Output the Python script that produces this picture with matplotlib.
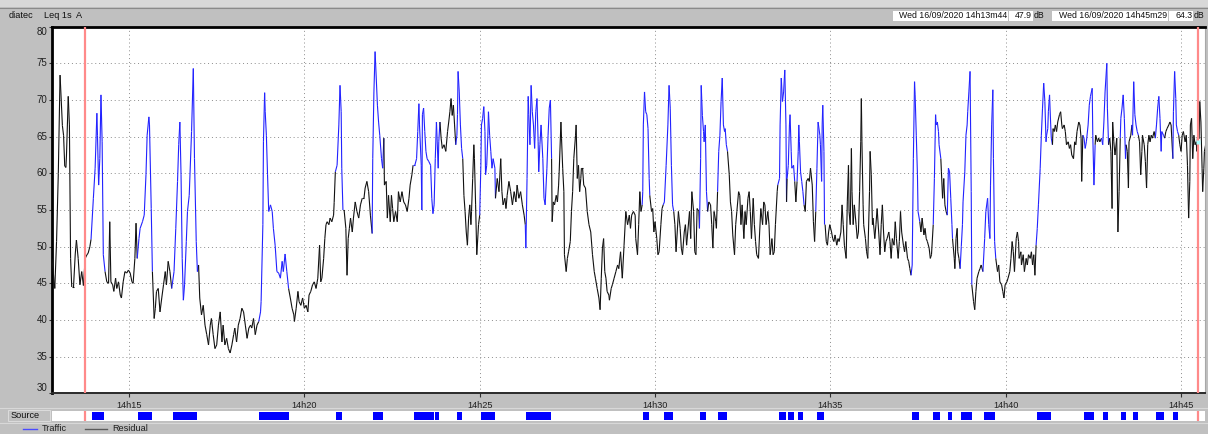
import numpy as np
import matplotlib
matplotlib.use("Agg")
import matplotlib.pyplot as plt
from matplotlib.collections import LineCollection
from matplotlib.patches import Rectangle
from matplotlib.lines import Line2D

plt.rcParams['font.family'] = ['Liberation Sans', 'DejaVu Sans']

# ---------------- data (time in seconds after 14h00, level in dB(A)) ----------------
part1 = [(768, 48.4), (771, 46.0), (773, 44.3), (776, 50.7), (779, 60.0), (782, 73.4), (784, 70.0), (786, 66.5),
         (788, 65.2), (790, 61.0), (792, 60.8), (793, 62.5), (796, 70.5), (798, 66.6), (800, 48.4), (802, 44.5),
         (805, 44.5), (808, 49.0), (810, 50.9), (813, 48.4), (816, 44.8), (819, 46.6), (822, 44.7), (825, 48.4),
         (828, 48.9), (830, 49.1), (833, 50.0), (835, 51.0), (839, 56.6), (842, 60.7), (845, 68.2), (846, 65.2),
         (848, 58.4), (850, 62.0), (852, 70.7), (854, 64.3), (856, 48.9), (859, 46.6), (862, 45.2), (865, 45.0),
         (867, 53.4), (869, 45.2), (872, 44.8), (874, 43.9), (877, 45.7), (879, 44.3), (882, 45.2), (885, 43.4),
         (887, 43.0), (890, 45.2), (893, 46.6), (896, 46.4), (899, 46.8), (902, 46.4), (905, 45.2), (907, 45.0),
         (910, 48.4), (912, 53.2), (914, 48.4), (917, 51.1), (919, 52.5), (923, 53.4), (926, 54.3), (929, 59.8),
         (931, 65.2), (934, 67.7), (935, 66.6), (938, 55.2), (940, 46.6), (943, 40.2), (945, 41.6), (947, 43.9),
         (950, 44.3), (953, 41.1), (956, 43.0), (959, 44.8), (962, 46.6), (964, 44.8), (967, 48.0), (970, 46.6),
         (973, 44.3), (977, 46.6), (980, 52.5), (983, 58.9), (985, 63.9), (987, 67.0), (989, 59.8), (991, 48.4),
         (993, 42.7), (995, 44.8), (998, 50.7), (1000, 54.8), (1003, 57.0), (1007, 65.7), (1010, 74.3), (1012, 62.0),
         (1015, 50.7), (1017, 46.6), (1019, 47.5), (1021, 43.0), (1024, 40.7), (1027, 42.0), (1030, 39.3), (1033, 38.0),
         (1036, 36.6), (1039, 39.3), (1041, 40.2), (1044, 38.0), (1047, 36.1), (1050, 36.6), (1053, 39.3), (1056, 41.1),
         (1059, 37.0), (1061, 39.3), (1064, 36.6), (1067, 37.5), (1070, 36.1), (1073, 35.5), (1076, 36.6), (1079, 38.0),
         (1081, 38.9), (1084, 37.0), (1087, 39.3), (1090, 40.2)]

part2 = [(1093, 41.6), (1096, 41.1), (1099, 39.3), (1102, 37.5), (1105, 38.9), (1108, 39.3), (1110, 38.9), (1113, 40.2),
         (1116, 38.0), (1119, 39.3), (1122, 39.8), (1125, 41.1), (1126, 42.5), (1129, 53.0), (1130, 64.3), (1132, 71.0),
         (1133, 68.4), (1135, 65.2), (1137, 59.8), (1139, 54.8), (1142, 55.7), (1145, 54.8), (1147, 52.5), (1150, 50.2),
         (1153, 46.6), (1156, 46.4), (1159, 45.7), (1162, 48.0), (1164, 46.6), (1167, 49.0), (1170, 46.6), (1173, 44.3),
         (1176, 43.0), (1179, 41.6), (1182, 40.7), (1183, 39.8), (1186, 41.6), (1189, 43.9), (1191, 42.5), (1194, 42.0),
         (1197, 43.0), (1200, 41.6), (1203, 42.0), (1206, 41.1), (1208, 43.4), (1211, 43.9), (1214, 44.8), (1217, 45.2),
         (1220, 44.3), (1223, 45.7), (1226, 50.2), (1228, 45.2), (1230, 45.7), (1233, 48.4), (1235, 51.1), (1237, 53.0),
         (1239, 53.4), (1242, 53.0), (1244, 53.9), (1247, 53.4), (1250, 54.3), (1251, 56.0), (1253, 60.2), (1256, 61.1),
         (1259, 66.6), (1261, 72.0), (1263, 68.4), (1264, 60.7), (1266, 55.0), (1268, 55.0), (1271, 52.5), (1273, 46.1),
         (1275, 51.1), (1277, 52.5), (1279, 53.9), (1282, 52.0), (1284, 53.9), (1287, 56.1), (1290, 54.8), (1293, 53.9),
         (1296, 55.7), (1299, 56.6), (1302, 56.6), (1304, 58.0), (1307, 58.9), (1310, 57.5), (1313, 54.3), (1316, 51.8),
         (1317, 62.0), (1319, 71.1), (1321, 76.6), (1323, 73.0), (1325, 69.3), (1327, 67.0), (1329, 65.2), (1332, 62.0),
         (1334, 60.7), (1336, 64.8), (1337, 58.4), (1340, 58.9), (1342, 53.9), (1344, 57.0), (1347, 53.4), (1349, 57.0),
         (1351, 55.2), (1353, 53.4), (1356, 54.8), (1359, 53.4), (1361, 57.5), (1364, 56.1), (1367, 57.5), (1370, 56.1),
         (1373, 55.7), (1376, 54.8), (1379, 56.6), (1381, 58.4), (1384, 59.8), (1386, 61.1), (1389, 61.1), (1392, 62.0),
         (1394, 65.7), (1396, 69.5), (1397, 66.6), (1400, 61.1), (1401, 55.0), (1402, 68.0), (1404, 68.9), (1406, 65.7),
         (1408, 63.0), (1410, 62.0), (1413, 61.6), (1416, 61.1), (1418, 56.6), (1420, 54.5)]

part3 = [(1422, 55.7), (1424, 62.0), (1426, 67.0), (1429, 60.7), (1430, 64.3), (1432, 67.0), (1434, 64.8), (1436, 63.4),
         (1439, 63.9), (1442, 63.0), (1445, 65.7), (1447, 67.0), (1449, 68.4), (1451, 70.2), (1453, 67.9), (1455, 69.3),
         (1457, 66.6), (1459, 63.9), (1461, 65.2), (1462, 68.0), (1463, 73.9), (1465, 71.1), (1467, 66.6), (1469, 63.4),
         (1471, 62.0), (1473, 57.0), (1475, 54.8), (1477, 52.0), (1479, 50.2), (1481, 53.9), (1483, 55.7), (1485, 53.0),
         (1486, 54.8), (1488, 59.3), (1490, 63.9), (1491, 62.0), (1493, 55.7), (1495, 48.9), (1497, 51.6), (1498, 53.0),
         (1500, 54.3), (1502, 61.1), (1503, 66.6), (1505, 67.5), (1507, 69.1), (1509, 65.7), (1510, 59.8), (1512, 61.1),
         (1514, 65.2), (1515, 68.4), (1517, 65.2), (1519, 63.0), (1521, 60.7), (1523, 62.0), (1526, 60.7), (1527, 56.6),
         (1530, 59.3), (1533, 57.5), (1536, 62.0), (1538, 57.5), (1540, 55.7), (1543, 56.6), (1545, 55.2), (1547, 57.0),
         (1550, 58.9), (1553, 57.5), (1556, 55.7), (1559, 57.5), (1562, 56.1), (1564, 58.4), (1567, 56.6), (1570, 57.5),
         (1573, 55.7), (1576, 54.3), (1578, 53.0), (1579, 49.8), (1581, 59.3), (1583, 70.5), (1584, 68.0), (1586, 63.9),
         (1588, 72.0), (1590, 68.4), (1592, 66.6), (1594, 63.4), (1596, 68.4), (1598, 70.2), (1600, 64.3), (1601, 60.2),
         (1603, 63.9), (1605, 66.6), (1608, 62.0), (1610, 56.6), (1612, 55.7), (1615, 60.7), (1617, 65.2), (1619, 68.9),
         (1621, 70.0), (1623, 62.0), (1624, 53.4), (1626, 56.1), (1628, 55.7), (1631, 57.0), (1633, 56.1), (1635, 58.4),
         (1636, 60.2), (1639, 67.0), (1640, 64.8), (1642, 60.7), (1644, 57.5), (1645, 48.9), (1648, 46.6), (1650, 48.4),
         (1652, 49.3), (1655, 50.7), (1657, 54.8), (1659, 57.5), (1661, 62.0), (1664, 65.2), (1665, 66.6), (1667, 59.3),
         (1669, 61.1), (1671, 57.5), (1673, 59.3), (1674, 60.7), (1676, 60.7), (1678, 58.4), (1681, 58.0), (1684, 54.8),
         (1687, 53.0), (1690, 52.0), (1693, 48.9), (1696, 46.6), (1698, 45.7), (1701, 44.3), (1704, 43.0), (1706, 41.4),
         (1708, 45.7), (1710, 49.8), (1712, 51.1), (1714, 46.6), (1716, 45.7), (1718, 43.9), (1721, 43.4), (1722, 42.7),
         (1725, 44.3), (1727, 44.8), (1730, 45.7), (1733, 46.6), (1736, 47.5), (1738, 47.0), (1741, 49.3), (1744, 45.7),
         (1747, 50.2)]

part4 = [(1750, 54.8), (1753, 53.0), (1756, 54.3), (1758, 52.5), (1760, 54.3), (1763, 54.8), (1766, 54.3), (1767, 51.1),
         (1770, 48.9), (1772, 53.0), (1774, 57.5), (1776, 54.8), (1778, 55.7), (1779, 57.5), (1780, 66.6), (1782, 71.1),
         (1784, 68.4), (1786, 68.0), (1788, 66.1), (1790, 59.3), (1791, 57.0), (1794, 54.8), (1796, 55.2), (1798, 52.0),
         (1800, 53.4), (1803, 51.1), (1805, 48.9), (1807, 49.3), (1810, 53.0), (1812, 55.2), (1814, 55.7), (1816, 56.1),
         (1819, 61.1), (1822, 66.6), (1824, 72.0), (1826, 68.9), (1828, 61.1), (1830, 55.7), (1832, 54.8), (1834, 53.0),
         (1836, 49.3), (1838, 52.0), (1840, 54.8), (1843, 52.5), (1845, 49.8), (1847, 48.9), (1850, 52.0), (1852, 53.0),
         (1854, 50.2), (1856, 52.0), (1859, 54.8), (1861, 51.1), (1863, 57.5), (1866, 54.8), (1868, 49.3), (1870, 48.9),
         (1872, 55.2), (1875, 54.8), (1876, 52.5), (1878, 62.0), (1879, 72.0), (1881, 67.9), (1883, 65.7), (1884, 64.3),
         (1886, 66.6), (1888, 57.5), (1890, 54.8), (1892, 56.1), (1895, 55.7), (1897, 53.0), (1899, 49.8), (1901, 54.8),
         (1904, 53.4), (1905, 52.5), (1907, 57.5), (1909, 63.0), (1911, 65.2), (1913, 69.8), (1915, 73.0), (1917, 66.6),
         (1919, 65.7), (1920, 66.1), (1922, 63.9), (1924, 63.0), (1927, 59.8), (1929, 56.1), (1931, 54.8), (1933, 51.6),
         (1936, 48.9), (1938, 53.0), (1940, 54.8), (1943, 57.5), (1945, 57.0), (1947, 53.0), (1949, 55.7), (1952, 51.1),
         (1954, 54.8), (1956, 53.0), (1959, 56.6), (1961, 57.5), (1963, 54.8), (1965, 51.1), (1968, 56.6), (1970, 53.0),
         (1972, 50.7), (1974, 48.9), (1977, 48.4), (1979, 52.0), (1981, 55.2), (1984, 53.0), (1986, 56.1), (1988, 55.7),
         (1990, 53.0), (1993, 54.8), (1995, 53.0), (1997, 48.9), (2000, 51.1), (2002, 48.9), (2004, 49.3), (2006, 53.0),
         (2009, 57.5), (2010, 58.4), (2013, 59.3), (2014, 66.6), (2016, 73.0), (2018, 69.8), (2020, 71.1), (2022, 74.1),
         (2024, 66.6), (2025, 56.1), (2026, 59.3), (2028, 61.1), (2030, 66.6), (2031, 68.0), (2033, 63.0), (2034, 60.7),
         (2037, 61.1), (2039, 58.9), (2041, 56.1), (2043, 58.9), (2045, 63.0), (2046, 66.6), (2047, 64.3), (2049, 60.2),
         (2051, 58.9), (2053, 57.5), (2055, 55.7), (2057, 54.8), (2059, 58.9), (2062, 59.3), (2064, 58.9), (2066, 60.7),
         (2069, 58.4), (2071, 53.4), (2073, 50.7), (2075, 54.8), (2077, 60.7), (2079, 67.0)]

part5 = [(2082, 65.2), (2083, 63.9), (2085, 58.9), (2086, 66.6), (2087, 69.3), (2089, 63.0), (2090, 53.0), (2091, 53.0),
         (2093, 50.7), (2095, 50.2), (2097, 52.0), (2099, 53.0), (2102, 52.0), (2104, 51.1), (2106, 50.7), (2108, 51.6),
         (2111, 50.2), (2113, 51.1), (2115, 50.7), (2118, 52.0), (2120, 55.7), (2122, 53.0), (2124, 50.2), (2127, 48.4),
         (2129, 56.1), (2131, 61.1), (2132, 54.8), (2134, 53.0), (2136, 63.4), (2137, 57.5), (2139, 53.0), (2141, 55.7),
         (2144, 53.0), (2146, 51.1), (2148, 52.0), (2150, 57.5), (2152, 64.3), (2153, 70.2), (2154, 64.3), (2156, 55.7),
         (2157, 53.0), (2160, 51.1), (2162, 49.3), (2164, 48.4), (2167, 57.5), (2168, 63.0), (2170, 59.8), (2172, 53.0),
         (2173, 53.9), (2176, 51.1), (2178, 53.0), (2180, 55.2), (2183, 51.6), (2185, 48.9), (2187, 53.0), (2189, 55.7),
         (2191, 52.0), (2193, 49.3), (2195, 50.7), (2197, 51.1), (2200, 52.0), (2202, 50.7), (2204, 48.4), (2206, 51.1),
         (2209, 50.2), (2211, 53.4), (2213, 51.1), (2216, 48.4), (2218, 50.7), (2220, 54.8), (2222, 52.0), (2225, 50.2),
         (2227, 49.3), (2229, 50.7), (2232, 48.4), (2234, 48.0), (2236, 47.0), (2238, 46.1), (2240, 47.5), (2242, 62.0),
         (2244, 72.5), (2245, 70.7), (2247, 65.2), (2249, 59.8), (2250, 54.8), (2253, 53.4), (2255, 52.0), (2257, 53.9),
         (2260, 51.6), (2262, 52.5), (2264, 51.1), (2266, 50.7), (2269, 49.8), (2271, 48.4), (2273, 48.9), (2276, 53.0),
         (2278, 59.3), (2280, 68.0), (2281, 66.6), (2283, 67.0), (2285, 65.7), (2286, 63.9), (2289, 62.0), (2290, 60.2),
         (2292, 56.6), (2294, 59.3), (2296, 55.7), (2298, 54.8), (2300, 54.3), (2302, 60.7), (2304, 60.2), (2306, 56.6),
         (2308, 53.0), (2309, 51.1), (2312, 48.4), (2313, 47.0), (2315, 51.1), (2317, 52.5), (2318, 49.3), (2320, 48.4),
         (2322, 47.0), (2324, 50.0), (2326, 53.0), (2327, 56.1), (2330, 60.2), (2332, 65.2), (2334, 66.6), (2335, 68.4),
         (2337, 71.1), (2339, 73.9), (2341, 57.5), (2342, 44.8), (2345, 42.5), (2347, 41.4), (2349, 43.9), (2351, 45.7),
         (2354, 46.6), (2356, 47.0), (2358, 47.5), (2361, 46.6), (2364, 51.1), (2366, 54.8), (2369, 56.6), (2371, 53.0),
         (2373, 51.1), (2374, 58.4), (2376, 66.6), (2378, 71.4), (2379, 62.0), (2381, 50.7), (2383, 48.4), (2386, 46.6),
         (2388, 47.5), (2390, 45.2), (2393, 44.8), (2395, 43.9), (2397, 43.0), (2399, 44.8), (2402, 45.2), (2404, 45.7)]

part6 = [(2407, 46.6), (2409, 48.4), (2411, 50.7), (2413, 49.3), (2415, 46.6), (2418, 51.1), (2420, 52.0), (2422, 50.7),
         (2423, 48.4), (2426, 49.3), (2427, 47.5), (2430, 48.9), (2432, 46.6), (2435, 48.4), (2437, 47.5), (2439, 48.9),
         (2442, 48.4), (2444, 49.3), (2446, 47.5), (2448, 48.9), (2450, 46.1), (2452, 50.2), (2454, 52.5), (2456, 55.7),
         (2459, 60.7), (2461, 65.2), (2463, 68.9), (2465, 72.3), (2467, 69.8), (2469, 64.3), (2470, 65.2), (2472, 66.1),
         (2473, 68.4), (2475, 70.7), (2477, 66.6), (2478, 64.8), (2480, 63.9), (2481, 66.1), (2483, 65.7), (2485, 66.6),
         (2487, 65.7), (2489, 67.0), (2492, 68.0), (2494, 68.4), (2496, 66.6), (2497, 66.1), (2500, 66.6), (2502, 65.7),
         (2504, 63.9), (2507, 64.3), (2509, 63.4), (2511, 63.9), (2513, 62.5), (2516, 62.0), (2518, 64.3), (2520, 63.9),
         (2522, 65.7), (2525, 67.0), (2527, 66.6), (2529, 64.8), (2530, 58.9), (2532, 65.2), (2534, 64.8), (2536, 63.4),
         (2538, 64.3), (2541, 66.6), (2543, 69.3), (2545, 70.5), (2548, 71.6), (2549, 65.2), (2551, 58.4), (2553, 63.9),
         (2554, 65.2), (2557, 64.3), (2559, 64.8), (2561, 64.3), (2564, 64.8), (2566, 63.9), (2568, 67.0), (2570, 71.1),
         (2573, 75.0), (2574, 68.9), (2576, 63.9), (2578, 64.8), (2580, 63.0), (2582, 55.2), (2583, 67.0), (2585, 64.3),
         (2587, 62.5), (2590, 64.8), (2592, 52.0), (2594, 57.5), (2596, 64.8), (2597, 67.5), (2599, 68.9), (2601, 70.7),
         (2603, 67.5), (2605, 62.0), (2606, 63.9), (2608, 63.0), (2610, 58.0), (2611, 64.3), (2614, 65.2), (2616, 66.6),
         (2617, 65.2), (2619, 72.5), (2621, 68.0), (2623, 66.6), (2625, 65.7), (2627, 65.2), (2629, 64.3), (2631, 59.8),
         (2633, 63.0), (2634, 65.2), (2637, 63.9), (2639, 61.6), (2641, 58.0), (2643, 63.9), (2645, 65.2), (2647, 64.3),
         (2649, 65.2), (2651, 64.8), (2654, 65.7), (2656, 64.8), (2658, 66.6), (2660, 68.9), (2662, 70.5), (2664, 67.5),
         (2666, 63.0), (2667, 65.7), (2670, 65.2), (2672, 64.8), (2674, 65.7), (2676, 66.1), (2679, 66.6), (2681, 67.0),
         (2683, 66.6), (2686, 62.0), (2687, 68.4), (2689, 73.9), (2691, 70.2), (2692, 66.6), (2694, 65.7), (2696, 65.2),
         (2698, 63.9), (2700, 63.0), (2702, 65.2), (2704, 65.7), (2707, 64.3), (2709, 65.2), (2711, 61.1), (2713, 53.9),
         (2715, 58.9), (2716, 66.6), (2718, 67.5), (2720, 62.0), (2722, 65.2), (2724, 63.9), (2726, 64.3), (2727, 63.0),
         (2728, 64.8), (2731, 64.8), (2732, 69.8), (2734, 67.0), (2736, 60.7), (2737, 57.5), (2739, 60.7), (2740, 63.0),
         (2743, 64.3)]

traffic_start = [836, 915, 976, 1123, 1254, 1317, 1388, 1423, 1461, 1502, 1579, 1779, 1816, 1877, 1908, 2012,
                 2028, 2044, 2077, 2240, 2276, 2301, 2324, 2363, 2454, 2534, 2566, 2597, 2617, 2658, 2686]
traffic_end = [857, 939, 1017, 1173, 1264, 1335, 1421, 1430, 1470, 1526, 1622, 1790, 1830, 1888, 1923, 2024,
               2037, 2053, 2089, 2252, 2288, 2308, 2342, 2381, 2478, 2551, 2575, 2605, 2626, 2671, 2694]

cursor_t = [824, 2729]
cursor_db = [47.9, 64.3]
tick_t = [900, 1200, 1500, 1800, 2100, 2400, 2700]
y_ticks = [30, 35, 40, 45, 50, 55, 60, 65, 70, 75, 80]
x_range = (767.7, 2741.0)

# ---------------- figure ----------------
W, H = 1208, 434
BG = '#c0c0c0'
BLUE = '#2222ff'
fig = plt.figure(figsize=(W / 100, H / 100), dpi=100)
fig.patch.set_facecolor(BG)
FS = 6.6
FSH = 6.3
FSY = 7.0


def prect(x0, y0, x1, y1):
    return [x0 / W, 1 - y1 / H, (x1 - x0) / W, (y1 - y0) / H]


def fx(x):
    return x / W


def fy(y):
    return 1 - y / H


# top strip
fig.add_artist(Rectangle((0, fy(7)), 1, 7 / H, transform=fig.transFigure,
                         facecolor='#d8d8d8', edgecolor='none'))
fig.add_artist(Line2D([0, 1], [fy(7.5)] * 2, transform=fig.transFigure, color='#8a8a8a', lw=0.8))

# header texts
fig.text(fx(9), fy(15.5), 'diatec', fontsize=FS, va='center', ha='left', color='#101010')
fig.text(fx(44), fy(15.5), 'Leq 1s', fontsize=FS, va='center', ha='left', color='#101010')
fig.text(fx(76), fy(15.5), 'A', fontsize=FS, va='center', ha='left', color='#101010')


def hms(s):
    h = 14 + s // 3600
    m = (s % 3600) // 60
    sec = s % 60
    return f"{h}h{m:02d}m{sec:02d}"


boxes = [(892.7, 1008.3, 1009.3, 1033.3), (1052.3, 1168.3, 1169.3, 1193.3)]
for (b0, b1, c0, c1), ct, cv in zip(boxes, cursor_t, cursor_db):
    for a, b in ((b0, b1), (c0, c1)):
        fig.add_artist(Rectangle((fx(a), fy(20.7)), (b - a) / W, 9.7 / H, transform=fig.transFigure,
                                 facecolor='white', edgecolor='none'))
    fig.text(fx(b1 - 1.5), fy(15.8), f"Wed 16/09/2020 {hms(ct)}", fontsize=FSH, ha='right', va='center',
             color='#101010')
    fig.text(fx(c1 - 1), fy(15.8), f"{cv:.1f}", fontsize=FSH, ha='right', va='center', color='#101010')
    fig.text(fx(c1 + 0.3), fy(15.8), "dB", fontsize=FSH, ha='left', va='center', color='#101010')

# ---------------- main axes ----------------
ax = fig.add_axes(prect(51.7, 26.7, 1205, 393.3))
ax.set_facecolor('white')
ax.set_xlim(*x_range)
ax.set_ylim(30, 80)

for yv in y_ticks[1:-1]:
    ax.axhline(yv, color='#8c8c8c', lw=0.7, ls=(0, (1, 3)), zorder=1)
for tv in tick_t:
    ax.axvline(tv, color='#8c8c8c', lw=0.7, ls=(0, (1, 3)), zorder=1)

data = np.array(part1 + part2 + part3 + part4 + part5 + part6, dtype=float)
t, db = data[:, 0], data[:, 1]
pts = np.column_stack([t, db])
segs = np.stack([pts[:-1], pts[1:]], axis=1)
mid = 0.5 * (t[:-1] + t[1:])
is_traffic = np.zeros(len(mid), dtype=bool)
for s0, s1 in zip(traffic_start, traffic_end):
    is_traffic |= (mid >= s0 - 1) & (mid <= s1 + 1)
colors = [BLUE if f else '#111111' for f in is_traffic]
lc = LineCollection(segs, colors=colors, linewidths=0.8, zorder=3)
ax.add_collection(lc)

for ct in cursor_t:
    ax.axvline(ct, color='#ff8a8a', lw=1.6, zorder=4)
ax.plot([cursor_t[1]], [cursor_db[1]], marker='s', ms=3.2, color='#a6ffff', mec='none', zorder=5)

for side in ('left', 'top'):
    ax.spines[side].set_color('#000000')
    ax.spines[side].set_linewidth(2.0)
ax.spines['bottom'].set_color('#2a2a2a')
ax.spines['bottom'].set_linewidth(1.4)
ax.spines['right'].set_color('#a8a8a8')
ax.spines['right'].set_linewidth(0.8)

ax.set_yticks(y_ticks)
ax.set_yticklabels([])
ax.tick_params(axis='y', length=2.5, width=0.8, color='#303030', direction='out')
for yv in y_ticks:
    va = 'center'
    if yv == y_ticks[0]:
        va = 'bottom'
    elif yv == y_ticks[-1]:
        va = 'top'
    ax.text(-0.0035, yv, str(yv), transform=ax.get_yaxis_transform(), ha='right', va=va,
            fontsize=FSY, color='#202020')

ax.set_xticks(tick_t)
ax.set_xticklabels([f"{14 + v // 3600}h{(v % 3600) // 60:02d}" for v in tick_t], fontsize=FS, color='#202020')
ax.tick_params(axis='x', length=3, width=0.8, color='#303030', direction='out', pad=2.5)

# ---------------- source strip ----------------
fig.add_artist(Line2D([0, 1], [fy(408)] * 2, transform=fig.transFigure, color='#d8d8d8', lw=0.8))
sx = fig.add_axes(prect(51.7, 410.7, 1205, 420.7))
sx.set_facecolor('white')
sx.set_xlim(*x_range)
sx.set_ylim(0, 1)
sx.broken_barh([(a, b - a) for a, b in zip(traffic_start, traffic_end)], (0.08, 0.84),
               facecolor='#0000ff', edgecolor='none')
for ct in cursor_t:
    sx.axvline(ct, color='#ff8a8a', lw=1.6)
sx.set_xticks([])
sx.set_yticks([])
for sp in sx.spines.values():
    sp.set_visible(False)
fig.add_artist(Rectangle((fx(8), fy(421)), 42 / W, 11.5 / H, transform=fig.transFigure,
                         facecolor='none', edgecolor='#dcdcdc', lw=0.7))
fig.text(fx(11), fy(415.5), 'Source', fontsize=FS, ha='left', va='center', color='#101010')

# ---------------- legend row ----------------
fig.add_artist(Line2D([0, 1], [fy(422.5)] * 2, transform=fig.transFigure, color='#d8d8d8', lw=0.8))
fig.add_artist(Line2D([fx(23), fx(37)], [fy(428.5)] * 2, transform=fig.transFigure, color='#4b4bff', lw=1.0))
fig.text(fx(42), fy(428.5), 'Traffic', fontsize=FS, ha='left', va='center', color='#202020')
fig.add_artist(Line2D([fx(85), fx(107)], [fy(428.5)] * 2, transform=fig.transFigure, color='#5a5a5a', lw=1.0))
fig.text(fx(112), fy(428.5), 'Residual', fontsize=FS, ha='left', va='center', color='#202020')

fig.savefig('out.png', dpi=100, facecolor=fig.get_facecolor())
